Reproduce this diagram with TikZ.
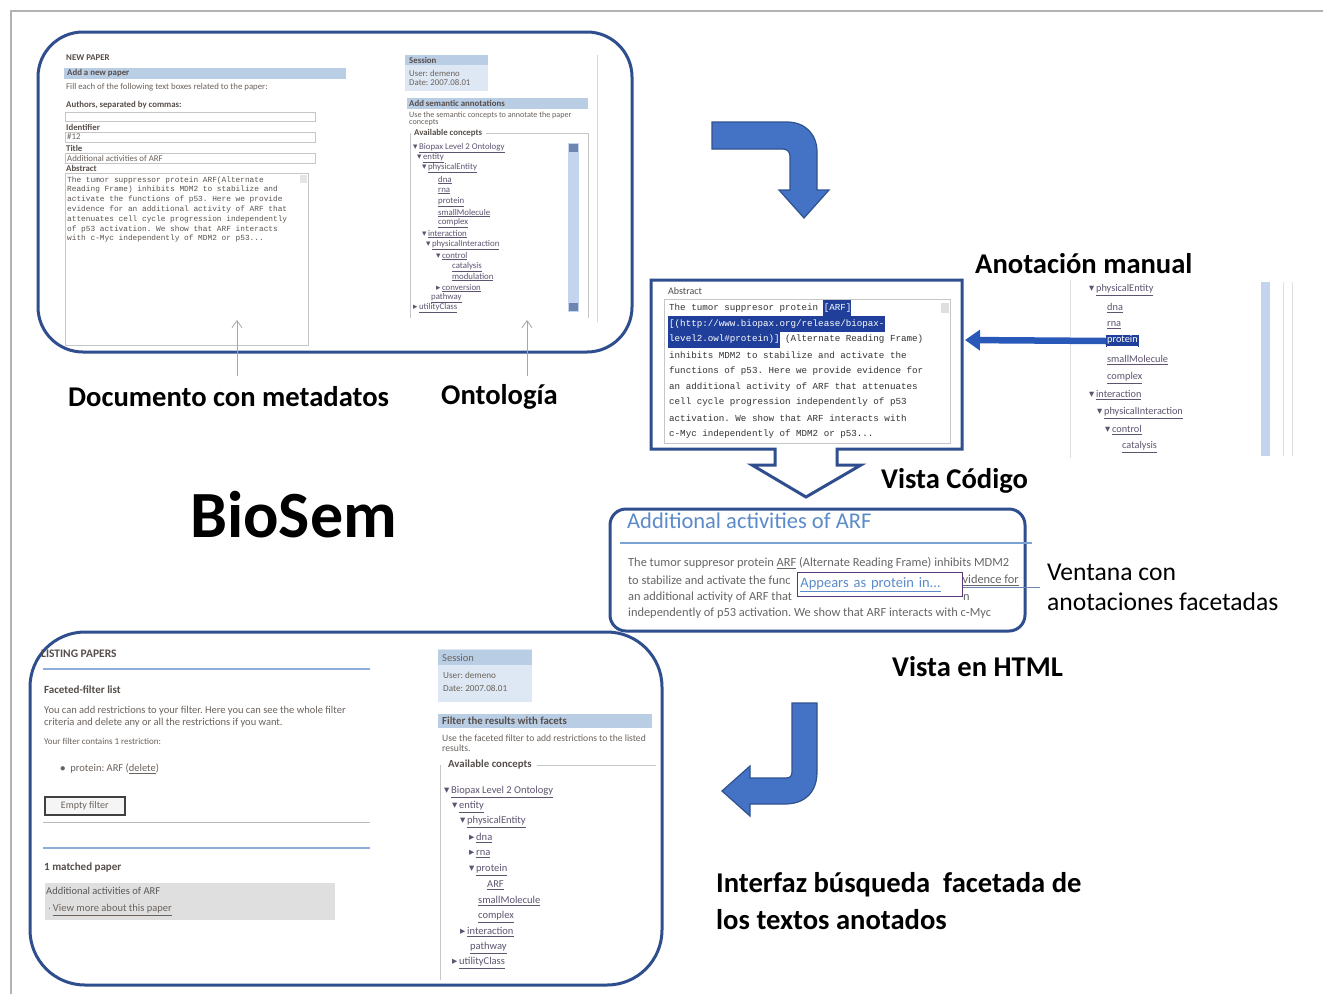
\documentclass[tikz,border=0pt]{standalone}
\usepackage{fontspec}
\setmainfont{Carlito}
\newfontfamily\dvsans{DejaVu Sans}
\newfontfamily\monof{Liberation Mono}
\usetikzlibrary{arrows.meta}
\definecolor{frameblue}{HTML}{2F4E8E}
\definecolor{arrfill}{HTML}{4472C4}
\definecolor{arrdraw}{HTML}{2F528F}
\definecolor{barblue}{HTML}{B9CDE5}
\definecolor{sessblue}{HTML}{DEE8F4}
\definecolor{txt}{HTML}{6B625C}
\definecolor{lnk}{HTML}{5E5470}
\definecolor{hl}{HTML}{1F3F9A}
\definecolor{titleblue}{HTML}{5B8BC9}
\definecolor{scroll}{HTML}{C5D4EE}
\definecolor{manblue}{HTML}{2858B8}
\newcommand\trd{{\dvsans\char"25BE}\,}
\newcommand\trr{{\dvsans\char"25B8}\,}
\newcommand\tdots{...}
\tikzset{
  frame/.style={draw=frameblue, line width=3},
  curvarr/.style={fill=arrfill, draw=arrdraw, line width=1.2},
  thinup/.style={draw=gray!70, line width=0.8, -{Straight Barb[length=7pt,width=10pt]}},
  biglbl/.style={font=\fontsize{28.6}{32}\selectfont\bfseries, anchor=west, inner sep=0, text=black},
  midlbl/.style={font=\fontsize{25.6}{30}\selectfont, anchor=west, inner sep=0, text=black},
  tls/.style={font=\fontsize{8.8}{9}\selectfont, anchor=west, inner sep=0, text=txt},
  tlb/.style={font=\fontsize{8.8}{9}\selectfont\bfseries, anchor=west, inner sep=0, text=txt!80!black},
  tlmono/.style={font=\fontsize{7.8}{9}\monof, anchor=west, inner sep=0, text=txt!85!black},
  absmono/.style={font=\fontsize{9.2}{10}\monof, anchor=west, inner sep=0, text=black!80},
  bls/.style={font=\fontsize{10.5}{11}\selectfont, anchor=west, inner sep=0, text=txt},
  blb/.style={font=\fontsize{11}{12}\selectfont\bfseries, anchor=west, inner sep=0, text=txt!80!black},
  rts/.style={font=\fontsize{10.3}{11}\selectfont, anchor=west, inner sep=0, text=lnk},
  btr/.style={font=\fontsize{10.5}{11}\selectfont, anchor=west, inner sep=0, text=lnk},
  htm/.style={font=\fontsize{12.4}{13}\selectfont, anchor=west, inner sep=0, text=black!60},
  boxg/.style={draw=gray!45, line width=0.6},
  bluel/.style={draw=titleblue!70, line width=1.2},
  grayl/.style={draw=gray!55, line width=1},
}
\begin{document}
\frenchspacing
\begin{tikzpicture}[x=1pt,y=-1pt]
\useasboundingbox (0,0) rectangle (1323,994);
\fill[white] (0,0) rectangle (1323,994);
\draw[gray!60, line width=1.2] (11,994) -- (11,11) -- (1323,11);

% ================= top-left screenshot =================
\draw[frame, fill=white, rounded corners=45] (38,32) rectangle (632,352);
\node[tlb] (tlNew) at (66,58) {NEW PAPER};
\fill[barblue] (64,68) rectangle (346,79);
\node[tlb] (tlAdd) at (67,73.5) {Add a new paper};
\node[tls] (tlFill) at (66,87) {Fill each of the following text boxes related to the paper:};
\node[tlb] (tlAuth) at (66,105) {Authors, separated by commas:};
\draw[boxg] (65,112) rectangle (315,121);
\node[tlb] (tlId) at (66,127) {Identifier};
\draw[boxg] (65,132) rectangle (315,142);
\node[tls] (tlIdv) at (67,137) {\#12};
\node[tlb] (tlTi) at (66,148) {Title};
\draw[boxg] (65,153) rectangle (315,163);
\node[tls] (tlTiv) at (67,158) {Additional activities of ARF};
\node[tlb] (tlAbs) at (66,168.5) {Abstract};
\draw[boxg] (65,173) rectangle (308,345);
\fill[gray!20] (300,175) rectangle (307,183);
\foreach \t [count=\i] in {
  {The tumor suppressor protein ARF(Alternate},
  {Reading Frame) inhibits MDM2 to stabilize and},
  {activate the functions of p53. Here we provide},
  {evidence for an additional activity of ARF that},
  {attenuates cell cycle progression independently},
  {of p53 activation. We show that ARF interacts},
  {with c-Myc independently of MDM2 or p53\tdots}}
  \node[tlmono] (tlm\i) at (67,{180+9.8*(\i-1)}) {\t};

% session box top
\fill[sessblue] (405,55) rectangle (488,91);
\fill[barblue] (405,55) rectangle (488,65);
\node[tlb] (tsSes) at (409,60) {Session};
\node[tls] (tsUser) at (409,73) {User: demeno};
\node[tls] (tsDate) at (409,83) {Date: 2007.08.01};
\fill[barblue] (407,98) rectangle (588,109);
\node[tlb] (tsAdd) at (409,103.5) {Add semantic annotations};
\node[tls, font=\fontsize{8.1}{9}\selectfont] (tsUse) at (409,115) {Use the semantic concepts to annotate the paper};
\node[tls, font=\fontsize{8.1}{9}\selectfont] (tsUse2) at (409,123) {concepts};
\node[tlb] (tsAv) at (414,133) {Available concepts};
\draw[boxg] (tsAv.east) ++(4,0) -- (588,133) -- (588,318);
\draw[boxg] (410,133) -- (410,318);
\draw[gray!30, line width=0.8] (597,55) -- (597,322);
\fill[scroll] (568,143) rectangle (579,312);
\fill[arrdraw!70] (569,144) rectangle (578,152);
\fill[arrdraw!70] (569,303) rectangle (578,311);
\foreach \x/\y/\t [count=\i] in {
  413/148/{\trd\underline{Biopax Level 2 Ontology}},
  417/158/{\trd\underline{entity}},
  422/168/{\trd\underline{physicalEntity}},
  438/180/{\underline{dna}},
  438/191/{\underline{rna}},
  438/202/{\underline{protein}},
  438/213/{\underline{smallMolecule}},
  438/223/{\underline{complex}},
  422/234/{\trd\underline{interaction}},
  426/245/{\trd\underline{physicalInteraction}},
  436/256/{\trd\underline{control}},
  452/267/{\underline{catalysis}},
  452/277/{\underline{modulation}},
  436/288/{\trr\underline{conversion}},
  431/298/{\underline{pathway}},
  413/308/{\trr\underline{utilityClass}}}
  \node[tls, text=lnk] (tlt\i) at (\x,\y) {\t};

% pointers and labels
\coordinate (ua1s) at (237,376); \coordinate (ua1e) at (237,320);
\coordinate (ua2s) at (527,376); \coordinate (ua2e) at (527,320);
\draw[thinup] (ua1s) -- (ua1e);
\draw[thinup] (ua2s) -- (ua2e);
\node[biglbl] (doc) at (68,397) {Documento con metadatos};
\node[biglbl] (onto) at (441,397) {Ontología};
\node[font=\fontsize{66}{70}\selectfont\bfseries, anchor=west, inner sep=0] (bio) at (190,515) {BioSem};

% curved arrow top
\draw[curvarr] (712,122) -- (787,122) .. controls (805,122) and (817,134) .. (817,152)
  -- (817,190) -- (829,190) -- (804,218) -- (779,190) -- (790,190) -- (790,156)
  .. controls (790,152) and (787,149) .. (783,149) -- (712,149) -- cycle;

% ================= abstract (Vista Codigo) =================
\draw[frame, fill=white, line join=miter] (651,280) -- (962,280) -- (962,449) -- (837,449) -- (837,465)
  -- (861,465) -- (806,497) -- (752,465) -- (775,465) -- (775,449) -- (651,449) -- cycle;
\node[font=\fontsize{10}{11}\selectfont, anchor=west, inner sep=0, text=black!70] (absL) at (668,291) {Abstract};
\draw[boxg] (664,299) rectangle (950,443);
\fill[gray!25] (941,303) rectangle (949,313);
\fill[hl] (822.6,300) rectangle (851,316);
\fill[hl] (668,316) rectangle (885,332);
\fill[hl] (668,332) rectangle (780,348);
\foreach \t [count=\i] in {
  {The tumor suppresor protein \textcolor{white}{[ARF]}},
  {\textcolor{white}{[(http://www.biopax.org/release/biopax-}},
  {\textcolor{white}{level2.owl\#protein)]} (Alternate Reading Frame)},
  {inhibits MDM2 to stabilize and activate the},
  {functions of p53. Here we provide evidence for},
  {an additional activity of ARF that attenuates},
  {cell cycle progression independently of p53},
  {activation. We show that ARF interacts with},
  {c-Myc independently of MDM2 or p53\tdots}}
  \node[absmono] (abm\i) at (669,{308+15.75*(\i-1)}) {\t};
\coordinate (absR) at (965,340);
\node[biglbl] (anot) at (975,264) {Anotación manual};
\node[biglbl] (vcod) at (881,481) {Vista Código};

% right tree
\draw[gray!25, line width=1] (1070,280) -- (1070,458);
\fill[scroll] (1261,282) rectangle (1270,456);
\draw[gray!25, line width=0.8] (1283,282) -- (1283,456);
\draw[gray!25, line width=0.8] (1292,282) -- (1292,456);
\node[rts, fill=hl, text=white, inner sep=1] (rprot) at (1106,341) {\underline{protein}};
\foreach \x/\y/\t [count=\i] in {
  1089/290/{\trd\underline{physicalEntity}},
  1107/308/{\underline{dna}},
  1107/325/{\underline{rna}},
  1107/360/{\underline{smallMolecule}},
  1107/378/{\underline{complex}},
  1089/395/{\trd\underline{interaction}},
  1097/413/{\trd\underline{physicalInteraction}},
  1105/430/{\trd\underline{control}},
  1122/447/{\underline{catalysis}}}
  \node[rts] (rt\i) at (\x,\y) {\t};
\draw[manblue, line width=6.5, -{Triangle[length=15pt,width=20pt]}] (rprot.west) -- (absR);

% ================= bottom-left screenshot =================
\draw[frame, fill=white, rounded corners=55] (30,632) rectangle (662,985);
\node[blb, font=\fontsize{11.5}{12}\selectfont\bfseries] (blList) at (41,654) {LISTING PAPERS};
\draw[bluel] (43,669) -- (370,669);
\node[blb] (blFac) at (44,690) {Faceted-filter list};
\node[bls] (blYou) at (44,711) {You can add restrictions to your filter. Here you can see the whole filter};
\node[bls] (blCri) at (44,723) {criteria and delete any or all the restrictions if you want.};
\node[bls, font=\fontsize{9}{10}\selectfont] (blYour) at (44,741) {Your filter contains 1 restriction:};
\node[bls] (blProt) at (60,769) {$\bullet$\ \ protein: ARF (\underline{delete})};
\node[draw=black!75, line width=1.5, fill=gray!8, minimum width=80, minimum height=18, anchor=north west, inner sep=0,
  font=\fontsize{10}{11}\selectfont, text=txt] (blBtn) at (44,796) {Empty filter};
\draw[grayl] (43,822) -- (370,822);
\draw[bluel] (43,848) -- (370,848);
\node[blb] (blMat) at (44,867) {1 matched paper};
\fill[gray!25] (45,883) rectangle (335,920);
\node[bls, text=black!65] (blAdd) at (46,891) {Additional activities of ARF};
\node[bls] (blView) at (48,910) {$\cdot$\,\underline{View more about this paper}};

\fill[sessblue] (438,649) rectangle (532,702);
\fill[barblue] (438,650) rectangle (532,665);
\node[bls, font=\fontsize{10.5}{11}\selectfont] (bsSes) at (442,657.5) {Session};
\node[bls, font=\fontsize{9.2}{10}\selectfont] (bsUser) at (443,675) {User: demeno};
\node[bls, font=\fontsize{9.2}{10}\selectfont] (bsDate) at (443,688) {Date: 2007.08.01};
\fill[barblue] (438,714) rectangle (652,728);
\node[blb, font=\fontsize{10.8}{11}\selectfont\bfseries] (bsFil) at (442,721) {Filter the results with facets};
\node[bls, font=\fontsize{9.6}{10}\selectfont] (bsUse) at (442,738) {Use the faceted filter to add restrictions to the listed};
\node[bls, font=\fontsize{9.6}{10}\selectfont] (bsRes) at (442,748) {results.};
\node[blb, font=\fontsize{10.8}{11}\selectfont\bfseries] (bsAv) at (448,765) {Available concepts};
\draw[boxg] (bsAv.east) ++(5,0) -- (656,765);
\draw[boxg] (440,765) -- (440,980);
\foreach \x/\y/\t [count=\i] in {
  444/792/{\trd\underline{Biopax Level 2 Ontology}},
  452/807/{\trd\underline{entity}},
  460/822/{\trd\underline{physicalEntity}},
  469/838/{\trr\underline{dna}},
  469/854/{\trr\underline{rna}},
  469/870/{\trd\underline{protein}},
  487/885/{\underline{ARF}},
  478/901/{\underline{smallMolecule}},
  478/917/{\underline{complex}},
  460/932/{\trr\underline{interaction}},
  470/948/{\underline{pathway}},
  452/963/{\trr\underline{utilityClass}}}
  \node[btr] (bt\i) at (\x,\y) {\t};

% ================= HTML view =================
\draw[frame, fill=white, rounded corners=16] (610,509) rectangle (1025,631);
\node[font=\fontsize{22.5}{24}\selectfont, anchor=west, inner sep=0, text=titleblue] (htTitle) at (627,521) {Additional activities of ARF};
\draw[titleblue!80, line width=1.6] (620,543) -- (1032,543);
\node[htm] (ht1) at (628,563) {The tumor suppresor protein \underline{ARF} (Alternate Reading Frame) inhibits MDM2};
\node[htm] (ht2) at (628,580) {to stabilize and activate the func};
\node[htm, anchor=east] (ht2b) at (1019,580) {\underline{vidence for}};
\node[htm] (ht3) at (628,597) {an additional activity of ARF that};
\node[htm] (ht3b) at (963,597) {n};
\node[htm] (ht4) at (628,613) {independently of p53 activation. We show that ARF interacts with c-Myc};
\node[draw=frameblue!70!purple, fill=white, line width=0.9, text width=159, align=left, minimum height=24,
  anchor=north west, inner xsep=3, inner ysep=0, font=\fontsize{14.5}{15}\selectfont, text=titleblue] (pop) at (797,572) {\underline{Appears as protein in\tdots}};
\coordinate (ventL) at (1040,587);
\draw[frameblue!70, line width=0.6] (pop.east |- ventL) -- (ventL);
\node[midlbl] (vent1) at (1047,572) {Ventana con};
\node[midlbl] (vent2) at (1047,602) {anotaciones facetadas};
\node[biglbl] (vhtml) at (892,667) {Vista en HTML};

% curved arrow bottom
\draw[curvarr] (792,703) -- (817,703) -- (817,772) .. controls (817,792) and (805,804) .. (785,804)
  -- (750,804) -- (750,816) -- (722,791) -- (750,766) -- (750,778) -- (786,778)
  .. controls (790,778) and (792,776) .. (792,772) -- cycle;

\node[biglbl] (if1) at (716,885) {Interfaz búsqueda\ \ facetada de};
\node[biglbl] (if2) at (716,920) {los textos anotados};
\end{tikzpicture}
\end{document}
